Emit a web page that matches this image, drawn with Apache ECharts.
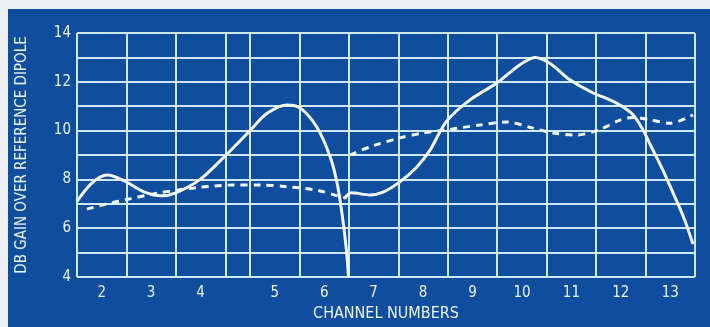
<!DOCTYPE html>
<html>
<head>
<meta charset="utf-8">
<script src="https://cdn.jsdelivr.net/npm/echarts@6/dist/echarts.min.js"></script>
<style>
  html, body { margin: 0; padding: 0; background: #eceeef; }
  #chart-ctn { width: 710px; height: 327px; }
</style>
</head>
<body>
<div id="chart-ctn"></div>
<script>
// channel cells are equal width, with a small gap between channel 4 and 5
var cellEdges = [0, 1, 2, 3, 3.5, 4.5, 5.5, 6.5, 7.5, 8.5, 9.5, 10.5, 11.5, 12.5];
var channelCenters = [0.5, 1.5, 2.5, 4, 5, 6, 7, 8, 9, 10, 11, 12];
var channelLabels = ['2', '3', '4', '5', '6', '7', '8', '9', '10', '11', '12', '13'];

// solid curve, low band (ch 2-6) and high band (ch 7-13)
var solidLow = [
  [0, 7.1], [0.3, 7.85], [0.61, 8.18], [0.95, 7.95], [1.34, 7.5], [1.7, 7.33],
  [2.0, 7.45], [2.49, 8.0], [2.99, 8.95], [3.5, 10.0], [3.84, 10.7], [4.25, 11.05],
  [4.51, 10.93], [4.85, 10.15], [5.12, 8.93], [5.26, 7.86], [5.36, 6.6], [5.45, 5.1],
  [5.49, 4.0]
];
var solidHigh = [
  [5.4, 7.2], [5.55, 7.45], [5.93, 7.36], [6.19, 7.48], [6.53, 7.9], [6.87, 8.5],
  [7.14, 9.2], [7.48, 10.4], [7.95, 11.26], [8.49, 11.95], [8.96, 12.7], [9.26, 13.0],
  [9.57, 12.75], [9.97, 12.08], [10.44, 11.54], [10.78, 11.26], [10.98, 11.05],
  [11.25, 10.64], [11.45, 10.02], [11.65, 9.2], [11.85, 8.38], [12.06, 7.43],
  [12.26, 6.5], [12.46, 5.35]
];

// dashed curve
var dashedLow = [
  [0.2, 6.78], [0.61, 7.0], [1.01, 7.18], [1.62, 7.43], [2.02, 7.56], [2.49, 7.68],
  [3.16, 7.77], [3.7, 7.77], [4.25, 7.7], [4.85, 7.56], [5.3, 7.31], [5.46, 7.25]
];
var dashedHigh = [
  [5.52, 9.0], [5.93, 9.34], [6.53, 9.7], [7.0, 9.9], [7.48, 10.03], [8.15, 10.23],
  [8.7, 10.35], [9.22, 10.1], [9.63, 9.9], [10.11, 9.82], [10.58, 10.05],
  [10.98, 10.43], [11.25, 10.54], [11.6, 10.44], [11.99, 10.3], [12.46, 10.64]
];

var gridColor = '#cfe9f2';
var textColor = '#eef4fa';
var fontName = 'DejaVu Sans Condensed';

function curve(data, dashed) {
  return {
    type: 'line',
    data: data,
    smooth: 0.3,
    symbol: 'none',
    silent: true,
    lineStyle: {
      color: '#f4f8fb',
      width: 3,
      type: dashed ? [7, 6] : 'solid'
    }
  };
}

var chart = echarts.init(document.getElementById('chart-ctn'));

var option = {
  backgroundColor: '#eceeef',
  animation: false,
  graphic: [{
    type: 'rect',
    z: -10,
    shape: { x: 8, y: 9, width: 702, height: 318 },
    style: { fill: '#0f4d9f' }
  }],
  grid: { left: 77, right: 15, top: 33, bottom: 50 },
  xAxis: {
    type: 'value',
    min: 0,
    max: 12.5,
    name: 'CHANNEL NUMBERS',
    nameLocation: 'middle',
    nameGap: 29,
    nameTextStyle: { color: textColor, fontFamily: fontName, fontSize: 16 },
    axisLine: { show: false },
    axisTick: { show: false, customValues: cellEdges },
    splitLine: { show: true, lineStyle: { color: gridColor, width: 2 } },
    axisLabel: {
      customValues: channelCenters,
      color: textColor,
      fontFamily: fontName,
      fontSize: 15,
      margin: 9,
      formatter: function(v) {
        var i = channelCenters.indexOf(v);
        return i >= 0 ? channelLabels[i] : '';
      }
    }
  },
  yAxis: {
    type: 'value',
    min: 4,
    max: 14,
    interval: 1,
    name: 'DB GAIN OVER REFERENCE DIPOLE',
    nameLocation: 'middle',
    nameGap: 47,
    nameTextStyle: { color: textColor, fontFamily: fontName, fontSize: 15 },
    axisLine: { show: false },
    axisTick: { show: false },
    splitLine: { show: true, lineStyle: { color: gridColor, width: 2 } },
    axisLabel: {
      color: textColor,
      fontFamily: fontName,
      fontSize: 15,
      margin: 6,
      formatter: function(v) {
        return v % 2 === 0 ? String(v) : '';
      }
    }
  },
  series: [
    curve(solidLow, false),
    curve(solidHigh, false),
    curve(dashedLow, true),
    curve(dashedHigh, true)
  ]
};

chart.setOption(option);
</script>
</body>
</html>
